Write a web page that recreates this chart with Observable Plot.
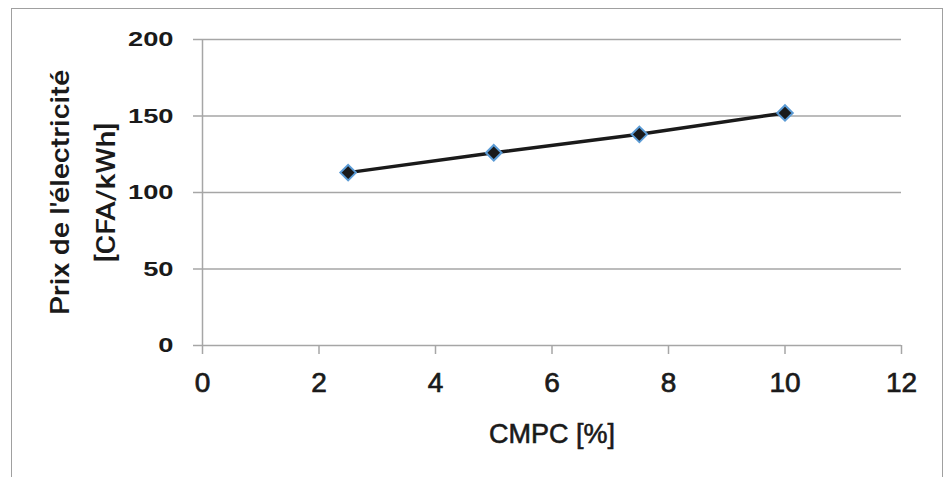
<!DOCTYPE html>
<html>
<head>
<meta charset="utf-8">
<script src="https://cdn.jsdelivr.net/npm/d3@7"></script>
<script src="https://cdn.jsdelivr.net/npm/@observablehq/plot@0.6"></script>
<style>
  html, body { margin: 0; padding: 0; background: #fff; overflow: hidden; }
  #wrap { position: relative; width: 946px; height: 477px; }
  #frame { position: absolute; left: 11px; top: 8px; width: 932px; height: 480px; border: 1px solid #a0a0a0; box-sizing: border-box; }
  #chart { position: absolute; left: 0; top: 0; }
</style>
</head>
<body>
<div id="wrap"><div id="frame"></div><div id="chart"></div></div>
<script>
const cmpc = [2.5, 5, 7.5, 10];
const prix = [113, 126, 138, 152];
const xTicks = [0, 2, 4, 6, 8, 10, 12];
const yTicks = [0, 50, 100, 150, 200];
const xLabel = "CMPC [%]";
const yLabel = "Prix de l'électricité\n[CFA/kWh]";

const data = cmpc.map((x, i) => ({x, y: prix[i]}));
const grid = "#a6a6a6";
const ink = "#1a1a1a";

const chart = Plot.plot({
  width: 946,
  height: 477,
  marginLeft: 202,
  marginRight: 45,
  marginTop: 39,
  marginBottom: 132,
  style: {fontFamily: "'Liberation Sans', Arial, sans-serif", fontSize: "21px", color: ink, background: "transparent"},
  x: {domain: [0, 12]},
  y: {domain: [0, 200]},
  marks: [
    Plot.ruleY(yTicks, {stroke: grid, strokeWidth: 1.5}),
    Plot.ruleX([0], {stroke: grid, strokeWidth: 1.5}),
    Plot.axisY(yTicks, {tickSize: 9, tickPadding: 20, stroke: grid, strokeWidth: 1.5, fontWeight: "bold", fontSize: 21, label: null}),
    Plot.axisX(xTicks, {tickSize: 9, tickPadding: 18, stroke: grid, strokeWidth: 1.5, fontSize: 28, label: null}),
    Plot.text([xLabel], {frameAnchor: "bottom", dy: 97, fontSize: 27, fill: ink}),
    Plot.text([yLabel], {frameAnchor: "left", textAnchor: "middle", rotate: -90, dx: -125, lineHeight: 1.85, fontSize: 25, fontFamily: "Roboto, sans-serif", fontWeight: 500, fill: ink}),
    Plot.line(data, {x: "x", y: "y", stroke: ink, strokeWidth: 3.5}),
    Plot.dot(data, {x: "x", y: "y", symbol: "diamond2", r: 7, fill: ink, stroke: "#5b9bd5", strokeWidth: 2})
  ]
});
// mimic the widened lettering of the original (scale along the reading direction only)
function stretchEl(el, sx) {
  const t = el.getAttribute("transform") || "";
  const x = parseFloat(el.getAttribute("x"));
  let pre = "";
  if (!isNaN(x) && x !== 0) { pre = ` translate(${x},0)`; el.setAttribute("x", 0); }
  el.setAttribute("transform", `${t}${pre} scale(${sx},1)`);
}
function thicken(el, w) {
  el.style.stroke = ink;
  el.style.strokeWidth = w;
  el.style.paintOrder = "fill";
}
chart.querySelectorAll('g[aria-label="y-axis tick label"] text').forEach(el => stretchEl(el, 1.3));
chart.querySelectorAll('g[aria-label="x-axis tick label"] text').forEach(el => thicken(el, 0.7));
chart.querySelectorAll('text').forEach(el => {
  if (el.textContent === xLabel) thicken(el, 0.6);
  if (el.textContent.startsWith("Prix")) stretchEl(el, 1.2);
});
document.getElementById("chart").appendChild(chart);
</script>
</body>
</html>
